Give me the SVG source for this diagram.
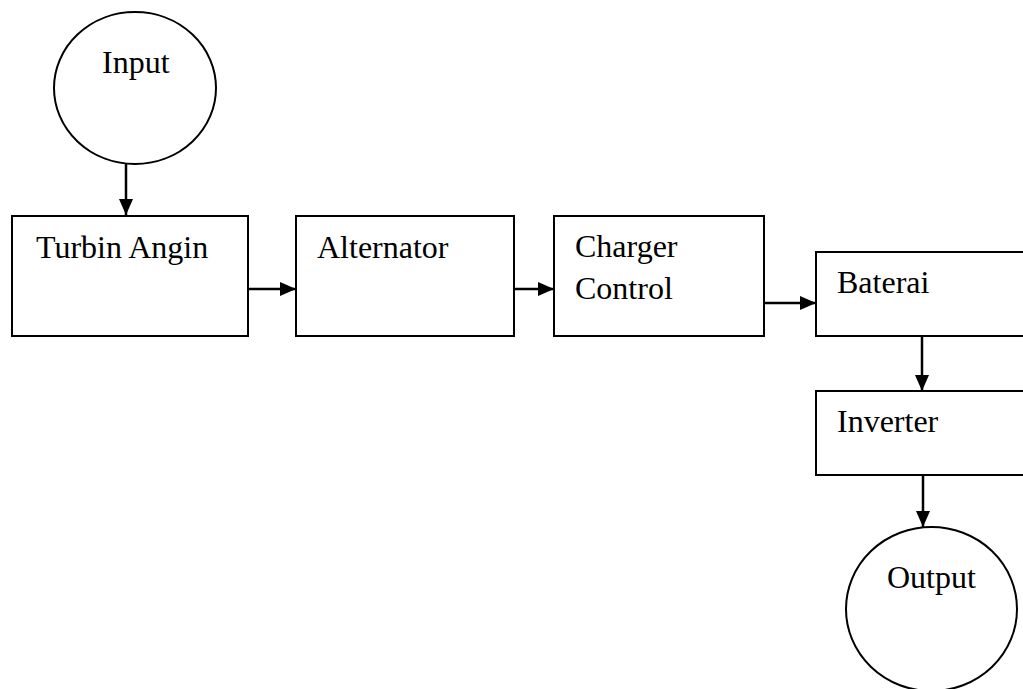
<svg xmlns="http://www.w3.org/2000/svg" width="1023" height="689" viewBox="0 0 1023 689">
<style>
.s{fill:#fff;stroke:#000;stroke-width:2}
.t{font-family:"Liberation Serif","Times New Roman",serif;font-size:32px;fill:#000}
.c{stroke:#000;stroke-width:2.5;fill:none}
</style>
<defs>
<marker id="ah" markerUnits="userSpaceOnUse" markerWidth="16" markerHeight="16" viewBox="0 0 16 16" refX="16" refY="8" orient="auto">
<path d="M0,1 L16,8 L0,15 Z" fill="#000"/>
</marker>
</defs>
<rect width="1023" height="689" fill="#fff"/>
<g id="connectors">
<line class="c" x1="126" y1="163" x2="126" y2="215" marker-end="url(#ah)"/>
<line class="c" x1="248" y1="289" x2="296" y2="289" marker-end="url(#ah)"/>
<line class="c" x1="514" y1="289" x2="554" y2="289" marker-end="url(#ah)"/>
<line class="c" x1="764" y1="303" x2="816" y2="303" marker-end="url(#ah)"/>
<line class="c" x1="922" y1="336" x2="922" y2="391" marker-end="url(#ah)"/>
<line class="c" x1="923" y1="475" x2="923" y2="527" marker-end="url(#ah)"/>
</g>
<g id="input"><ellipse class="s" cx="135" cy="88" rx="81" ry="76"/><text class="t" x="102" y="73">Input</text></g>
<g id="turbin"><rect class="s" x="12" y="216" width="236" height="120"/><text class="t" x="36" y="258">Turbin Angin</text></g>
<g id="alternator"><rect class="s" x="296" y="216" width="218" height="120"/><text class="t" x="317" y="258">Alternator</text></g>
<g id="charger"><rect class="s" x="554" y="216" width="210" height="120"/><text class="t" x="575" y="257">Charger</text><text class="t" x="575" y="299">Control</text></g>
<g id="baterai"><rect class="s" x="816" y="252" width="220" height="84"/><text class="t" x="837" y="293">Baterai</text></g>
<g id="inverter"><rect class="s" x="816" y="391" width="220" height="84"/><text class="t" x="837" y="432">Inverter</text></g>
<g id="output"><ellipse class="s" cx="931.5" cy="609" rx="85.5" ry="82"/><text class="t" x="887" y="588">Output</text></g>
</svg>
